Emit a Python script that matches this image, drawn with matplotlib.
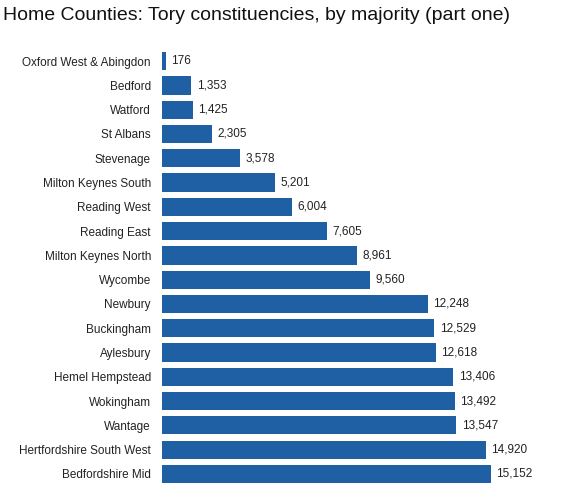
import matplotlib
matplotlib.use("Agg")
import matplotlib.pyplot as plt

names = ["Oxford West & Abingdon","Bedford","Watford","St Albans","Stevenage","Milton Keynes South",
         "Reading West","Reading East","Milton Keynes North","Wycombe","Newbury","Buckingham","Aylesbury",
         "Hemel Hempstead","Wokingham","Wantage","Hertfordshire South West","Bedfordshire Mid"]
values = [176,1353,1425,2305,3578,5201,6004,7605,8961,9560,12248,12529,12618,13406,13492,13547,14920,15152]

plt.rcParams['font.family'] = ['Liberation Sans', 'DejaVu Sans']
fig = plt.figure(figsize=(5.71,4.93), dpi=100)
ax = fig.add_axes([0.2837, 0.014, 0.706, 0.8866])
y = list(range(len(names)))
ax.barh(y, values, height=0.75, color='#1f5fa4')
for yi, v in zip(y, values):
    ax.text(v + 250, yi, f"{v:,}", va='center', ha='left', fontsize=8.5, color='#222222')
ax.set_yticks(y)
ax.set_yticklabels(names, fontsize=8.5, color='#222222')
ax.tick_params(axis='y', length=0, pad=8)
ax.set_xticks([])
ax.set_xlim(0, 18560)
ax.set_ylim(len(names)-0.5, -0.5)
for s in ax.spines.values():
    s.set_visible(False)
fig.text(0.005, 0.985, "Home Counties: Tory constituencies, by majority (part one)", fontsize=14, va='top', ha='left', color='#111111')
fig.savefig("out.png", dpi=100)
